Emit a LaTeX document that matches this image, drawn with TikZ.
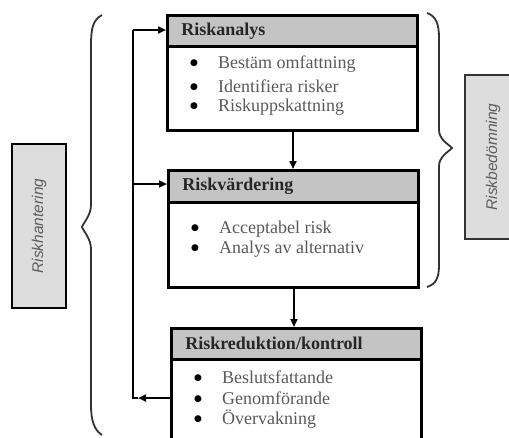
\documentclass[tikz,border=0pt]{standalone}
\usepackage{fontspec}
\setmainfont{Liberation Serif}
\setsansfont{Liberation Sans}
\newfontfamily\dejavu{DejaVu Sans}
\usetikzlibrary{arrows.meta}
\definecolor{hdrfill}{HTML}{C4C4C4}
\definecolor{lblfill}{HTML}{DDDDDD}
\definecolor{bodytext}{HTML}{5A5A5A}
\definecolor{lbltext}{HTML}{5E5E5E}
\tikzset{
  hdr/.style={draw=black, line width=2.6pt, fill=hdrfill, anchor=north west, minimum width=250pt,
    text width=222pt, align=left, inner xsep=14pt, inner ysep=0pt,
    font=\fontsize{18}{20}\selectfont\bfseries, text=black!85},
  bodybox/.style={draw=black, line width=2.6pt, fill=white, anchor=north west, minimum width=250pt, inner sep=0pt},
  item/.style={anchor=west, inner sep=0pt, font=\fontsize{18}{20}\selectfont, text=bodytext},
  lbl/.style={draw=black, line width=2.4pt, fill=lblfill, inner sep=0pt, rotate=90,
    font=\sffamily\itshape\fontsize{15.5}{17}\selectfont, text=lbltext},
  conn/.style={line width=2.4pt, -{Triangle[length=8pt,width=7pt]}},
  plain/.style={line width=2.4pt},
  brace/.style={line width=1.8pt, black!80}
}
\newcommand{\bitem}[1]{\makebox[28pt][l]{\raisebox{3.2pt}{\textcolor{black}{\dejavu\fontsize{9}{10}\selectfont ●}}}#1}
\begin{document}
\begin{tikzpicture}[x=1pt,y=-1pt]
\useasboundingbox (0,0) rectangle (509,437);
% Box 1
\node[bodybox, minimum height=84pt] (b1) at (166,45) {};
\node[hdr, minimum height=31pt] (h1) at (166,14) {Riskanalys};
\node[item] (i11) at (190,64) {\bitem{Bestäm omfattning}};
\node[item] (i12) at (190,86) {\bitem{Identifiera risker}};
\node[item] (i13) at (190,107) {\bitem{Riskuppskattning}};
% Box 2
\node[bodybox, minimum height=85pt] (b2) at (167,201) {};
\node[hdr, minimum height=32pt] (h2) at (167,169) {Riskvärdering};
\node[item] (i21) at (191,229) {\bitem{Acceptabel risk}};
\node[item] (i22) at (191,249) {\bitem{Analys av alternativ}};
% Box 3
\node[bodybox, minimum height=90pt] (b3) at (170,358) {};
\node[hdr, minimum height=31pt] (h3) at (170,327) {Riskreduktion/kontroll};
\node[item] (i31) at (194,377) {\bitem{Beslutsfattande}};
\node[item] (i32) at (194,398) {\bitem{Genomförande}};
\node[item] (i33) at (194,419) {\bitem{Övervakning}};
% Labels
\node[lbl, minimum width=164pt, minimum height=54pt] (lh) at (39,226) {Riskhantering};
\node[lbl, minimum width=164pt, minimum height=56pt, line width=1.8pt, draw=black!80] (lb) at (493,157) {Riskbedömning};
% Connectors
\draw[conn] (b1.south -| 293,0) -- (h2.north -| 293,0);
\draw[conn] (b2.south -| 294,0) -- (h3.north -| 294,0);
\coordinate (c3) at (133,398);
\coordinate (c1) at (133,30);
\coordinate (c2) at (133,184);
\coordinate (a3) at (138,398);
\draw[conn] (b3.west |- c3) -- (a3);
\draw[plain] (a3) -- (c3) -- (c1);
\draw[conn] (c1) -- (h1.west |- c1);
\draw[conn] (c2) -- (h2.west |- c2);
% Left brace
\draw[brace] (102,15) .. controls (93,20) and (91,28) .. (91,45) -- (91,205)
  .. controls (91,215) and (84,222) .. (82,227)
  .. controls (84,232) and (91,239) .. (91,249) -- (91,405)
  .. controls (91,420) and (94,430) .. (102,435);
% Right brace
\draw[brace] (427,13) .. controls (436,16) and (439,24) .. (439,38) -- (439,130)
  .. controls (439,139) and (448,144) .. (452,148)
  .. controls (448,152) and (439,157) .. (439,166) -- (439,265)
  .. controls (439,278) and (436,284) .. (427,287);
\end{tikzpicture}
\end{document}
